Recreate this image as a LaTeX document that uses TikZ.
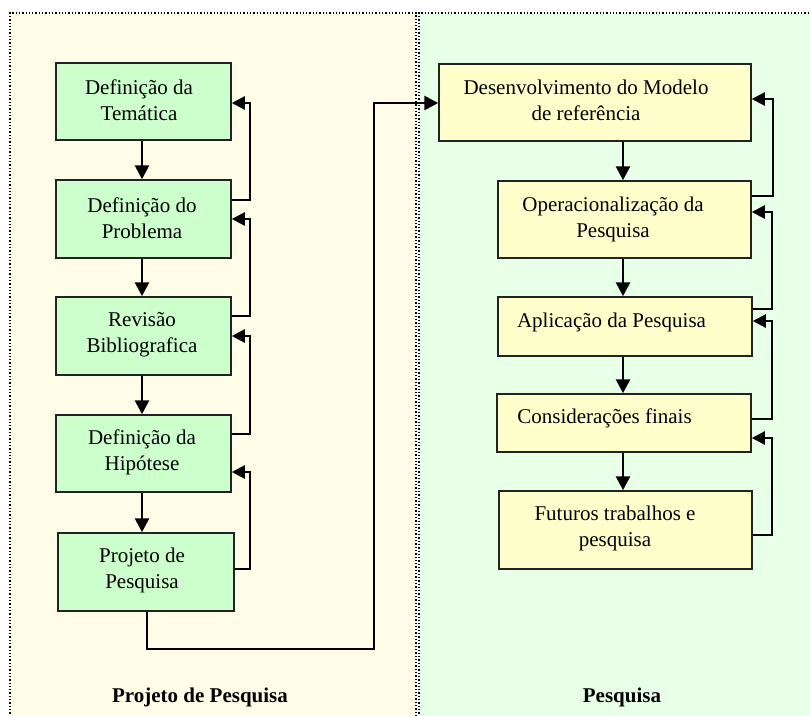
\documentclass[tikz,border=0pt]{standalone}
\usepackage{fontspec}
\setmainfont{Liberation Serif}
\usetikzlibrary{arrows.meta}
\definecolor{leftbg}{HTML}{FFFDE8}
\definecolor{rightbg}{HTML}{E8FFE8}
\definecolor{gbox}{HTML}{CCFFCC}
\definecolor{ybox}{HTML}{FFFFCC}
\definecolor{edge}{HTML}{222222}
\begin{document}
\begin{tikzpicture}[x=1pt,y=-1pt,
  panel/.style={draw=black, dotted, line width=1.3pt},
  boxg/.style={draw=edge, fill=gbox, line width=1.5pt, inner sep=0pt},
  boxy/.style={draw=edge, fill=ybox, line width=1.5pt, inner sep=0pt},
  txt/.style={inner sep=0pt, align=center, font=\fontsize{21}{26}\selectfont},
  ttl/.style={inner sep=0pt, font=\fontsize{21}{26}\selectfont\bfseries},
  down/.style={draw=black, line width=2.8pt, -{Triangle[length=14pt,width=14pt]}},
  fb/.style={draw=black, line width=2.2pt, -{Triangle[length=13pt,width=13pt]}},
  link/.style={draw=black, line width=1.4pt}]
\useasboundingbox (0,0) rectangle (810,715);
% panels
\fill[leftbg] (10,13) rectangle (416,730);
\fill[rightbg] (419,13) rectangle (830,730);
\draw[panel] (10,730) -- (10,13) -- (416,13) -- (416,730);
\draw[panel] (419,730) -- (419,13) -- (830,13);

% left boxes
\node[boxg, minimum width=175pt, minimum height=77pt] (L1) at (143.5,101.5) {};
\node[boxg, minimum width=175pt, minimum height=78pt] (L2) at (143.5,219) {};
\node[boxg, minimum width=175pt, minimum height=78pt] (L3) at (143.5,336) {};
\node[boxg, minimum width=175pt, minimum height=77pt] (L4) at (143.5,453.5) {};
\node[boxg, minimum width=176pt, minimum height=78pt] (L5) at (146,572) {};
\node[txt] (tL1) at (139,100.5) {Definição da\\Temática};
\node[txt] (tL2) at (142,218) {Definição do\\Problema};
\node[txt] (tL3) at (142,335) {Revisão\\Bibliografica};
\node[txt] (tL4) at (142,452) {Definição da\\Hipótese};
\node[txt] (tL5) at (142,570.5) {Projeto de\\Pesquisa};

% right boxes
\node[boxy, minimum width=312pt, minimum height=77pt] (R1) at (595,102.5) {};
\node[boxy, minimum width=253pt, minimum height=77pt] (R2) at (624.5,219.5) {};
\node[boxy, minimum width=254pt, minimum height=59pt] (R3) at (625,326.5) {};
\node[boxy, minimum width=254pt, minimum height=58pt] (R4) at (624,423) {};
\node[boxy, minimum width=253pt, minimum height=78pt] (R5) at (625.5,530) {};
\node[txt] (tR1) at (586,100) {Desenvolvimento do Modelo\\de referência};
\node[txt] (tR2) at (613,219) {Operacionalização da\\Pesquisa};
\node[txt] (tR3) at (611.5,322) {Aplicação da Pesquisa};
\node[txt] (tR4) at (604.5,418) {Considerações finais};
\node[txt] (tR5) at (615,528.5) {Futuros trabalhos e\\pesquisa};

% titles
\node[ttl] (T1) at (200,697) {Projeto de Pesquisa};
\node[ttl] (T2) at (622,697) {Pesquisa};

% down arrows left
\draw[down] ([xshift=-1.5pt]L1.south) -- ([xshift=-1.5pt]L2.north);
\draw[down] ([xshift=-1.5pt]L2.south) -- ([xshift=-1.5pt]L3.north);
\draw[down] ([xshift=-1.5pt]L3.south) -- ([xshift=-1.5pt]L4.north);
\draw[down] ([xshift=-1.5pt]L4.south) -- ([xshift=-1.5pt]L4.south |- L5.north);

% down arrows right
\draw[down] (R1.south -| 623,0) -- (R2.north -| 623,0);
\draw[down] (R2.south -| 623,0) -- (R3.north -| 623,0);
\draw[down] (R3.south -| 623,0) -- (R4.north -| 623,0);
\draw[down] (R4.south -| 623,0) -- (R5.north -| 623,0);

% feedback left
\draw[fb] ([yshift=19pt]L2.east) -- (250,200) -- (250,103) -- ([yshift=-1.5pt]L1.east);
\draw[fb] ([yshift=20pt]L3.east) -- (250,316) -- (250,219) -- (L2.east);
\draw[fb] ([yshift=19.5pt]L4.east) -- (250,434) -- (250,336) -- (L3.east);
\draw[fb] ([yshift=3pt]L5.east) -- (250,569) -- (250,472) -- ([yshift=-18.5pt]L4.east);

% feedback right
\draw[fb] ([yshift=23.5pt]R2.east) -- (773,196) -- (773,99) -- ([yshift=3.5pt]R1.east);
\draw[fb] ([yshift=17.5pt]R3.east) -- (772,309) -- (772,212) -- ([yshift=7.5pt]R2.east);
\draw[fb] ([yshift=4pt]R4.east) -- (772,419) -- (772,321) -- ([yshift=5.5pt]R3.east);
\draw[fb] ([yshift=-5pt]R5.east) -- (772,535) -- (772,438) -- ([yshift=-15pt]R4.east);

% link between panels
\coordinate (c1) at (147,649);
\coordinate (c2) at (374,649);
\coordinate (c3) at (374,103);
\draw[link] (L5.south -| c1) -- (c1) -- (c2) -- (c3);
\draw[down] ([xshift=-0.7pt]c3) -- (R1.west |- c3);
\end{tikzpicture}
\end{document}
